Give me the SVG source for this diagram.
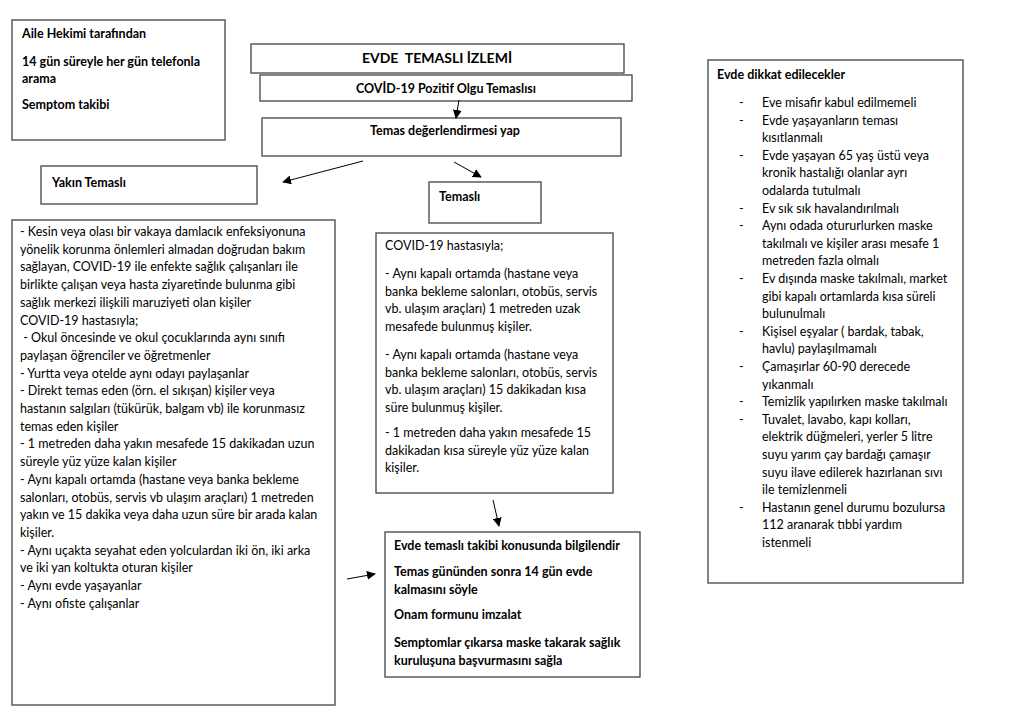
<svg xmlns="http://www.w3.org/2000/svg" width="1024" height="723" viewBox="0 0 1024 723">
<defs>
<style>
.box{fill:#fff;stroke:#505050;stroke-width:1.4}
text{font-family:Lato,"Liberation Sans",sans-serif;font-size:12.5px;fill:#000}
.b{font-weight:bold}
.c{text-anchor:middle}
.t{font-size:14px}
.con{stroke:#000;stroke-width:1;fill:none;marker-end:url(#ah)}
</style>
<marker id="ah" viewBox="0 0 10 10" refX="9" refY="5" markerWidth="9" markerHeight="9" markerUnits="userSpaceOnUse" orient="auto">
<path d="M0,0 L10,5 L0,10 z" fill="#000"/>
</marker>
</defs>
<rect width="1024" height="723" fill="#fff"/>

<g id="aile">
<rect class="box" x="12" y="20" width="213" height="120"/>
<text class="b" x="22" y="38">Aile Hekimi tarafından</text>
<text class="b" x="22" y="66">14 gün süreyle her gün telefonla</text>
<text class="b" x="22" y="83">arama</text>
<text class="b" x="22" y="109">Semptom takibi</text>
</g>

<g id="baslik">
<rect class="box" x="251" y="44" width="373" height="29"/>
<text class="b c t" x="437" y="63">EVDE&#160; TEMASLI İZLEMİ</text>
</g>

<g id="covid">
<rect class="box" x="260" y="75" width="372" height="26"/>
<text class="b c" x="446" y="93">COVİD-19 Pozitif Olgu Temaslısı</text>
</g>

<g id="degerlendirme">
<rect class="box" x="262" y="118" width="359" height="38"/>
<text class="b c" x="445" y="135">Temas değerlendirmesi yap</text>
</g>

<g id="yakin">
<rect class="box" x="41" y="166" width="216" height="38"/>
<text class="b" x="52" y="187">Yakın Temaslı</text>
</g>

<g id="temasli">
<rect class="box" x="429" y="182" width="112" height="41"/>
<text class="b" x="439" y="201">Temaslı</text>
</g>

<g id="yakin-liste">
<rect class="box" x="12" y="220" width="323" height="485"/>
<text x="20" y="236">- Kesin veya olası bir vakaya damlacık enfeksiyonuna</text>
<text x="20" y="253.7">yönelik korunma önlemleri almadan doğrudan bakım</text>
<text x="20" y="271.4">sağlayan, COVID-19 ile enfekte sağlık çalışanları ile</text>
<text x="20" y="289.1">birlikte çalışan veya hasta ziyaretinde bulunma gibi</text>
<text x="20" y="306.8">sağlık merkezi ilişkili maruziyeti olan kişiler</text>
<text x="20" y="324.5">COVID-19 hastasıyla;</text>
<text x="20" y="342.2">&#160;- Okul öncesinde ve okul çocuklarında aynı sınıfı</text>
<text x="20" y="359.9">paylaşan öğrenciler ve öğretmenler</text>
<text x="20" y="377.6">- Yurtta veya otelde aynı odayı paylaşanlar</text>
<text x="20" y="395.3">- Direkt temas eden (örn. el sıkışan) kişiler veya</text>
<text x="20" y="413">hastanın salgıları (tükürük, balgam vb) ile korunmasız</text>
<text x="20" y="430.7">temas eden kişiler</text>
<text x="20" y="448.4">- 1 metreden daha yakın mesafede 15 dakikadan uzun</text>
<text x="20" y="466.1">süreyle yüz yüze kalan kişiler</text>
<text x="20" y="483.8">- Aynı kapalı ortamda (hastane veya banka bekleme</text>
<text x="20" y="501.5">salonları, otobüs, servis vb ulaşım araçları) 1 metreden</text>
<text x="20" y="519.2">yakın ve 15 dakika veya daha uzun süre bir arada kalan</text>
<text x="20" y="536.9">kişiler.</text>
<text x="20" y="554.6">- Aynı uçakta seyahat eden yolculardan iki ön, iki arka</text>
<text x="20" y="572.3">ve iki yan koltukta oturan kişiler</text>
<text x="20" y="590">- Aynı evde yaşayanlar</text>
<text x="20" y="607.7">- Aynı ofiste çalışanlar</text>
</g>

<g id="temasli-liste">
<rect class="box" x="376" y="233" width="237" height="260"/>
<text x="385" y="250">COVID-19 hastasıyla;</text>
<text x="385" y="278">- Aynı kapalı ortamda (hastane veya</text>
<text x="385" y="295.7">banka bekleme salonları, otobüs, servis</text>
<text x="385" y="313.4">vb. ulaşım araçları) 1 metreden uzak</text>
<text x="385" y="331.1">mesafede bulunmuş kişiler.</text>
<text x="385" y="359">- Aynı kapalı ortamda (hastane veya</text>
<text x="385" y="376.7">banka bekleme salonları, otobüs, servis</text>
<text x="385" y="394.4">vb. ulaşım araçları) 15 dakikadan kısa</text>
<text x="385" y="412.1">süre bulunmuş kişiler.</text>
<text x="385" y="437">- 1 metreden daha yakın mesafede 15</text>
<text x="385" y="454.7">dakikadan kısa süreyle yüz yüze kalan</text>
<text x="385" y="472.4">kişiler.</text>
</g>

<g id="bilgilendir">
<rect class="box" x="385" y="532" width="255" height="145"/>
<text class="b" x="394" y="550">Evde temaslı takibi konusunda bilgilendir</text>
<text class="b" x="394" y="576">Temas gününden sonra 14 gün evde</text>
<text class="b" x="394" y="594">kalmasını söyle</text>
<text class="b" x="394" y="619">Onam formunu imzalat</text>
<text class="b" x="394" y="647">Semptomlar çıkarsa maske takarak sağlık</text>
<text class="b" x="394" y="665">kuruluşuna başvurmasını sağla</text>
</g>

<g id="dikkat">
<rect class="box" x="708" y="60" width="255" height="523"/>
<text class="b" x="717" y="79">Evde dikkat edilecekler</text>
<g>
<text x="739" y="107">-</text><text x="762" y="107">Eve misafir kabul edilmemeli</text>
<text x="739" y="124.6">-</text><text x="762" y="124.6">Evde yaşayanların teması</text>
<text x="762" y="142.2">kısıtlanmalı</text>
<text x="739" y="159.8">-</text><text x="762" y="159.8">Evde yaşayan 65 yaş üstü veya</text>
<text x="762" y="177.4">kronik hastalığı olanlar ayrı</text>
<text x="762" y="195">odalarda tutulmalı</text>
<text x="739" y="212.6">-</text><text x="762" y="212.6">Ev sık sık havalandırılmalı</text>
<text x="739" y="230.2">-</text><text x="762" y="230.2">Aynı odada otururlurken maske</text>
<text x="762" y="247.8">takılmalı ve kişiler arası mesafe 1</text>
<text x="762" y="265.4">metreden fazla olmalı</text>
<text x="739" y="283">-</text><text x="762" y="283">Ev dışında maske takılmalı, market</text>
<text x="762" y="300.6">gibi kapalı ortamlarda kısa süreli</text>
<text x="762" y="318.2">bulunulmalı</text>
<text x="739" y="335.8">-</text><text x="762" y="335.8">Kişisel eşyalar ( bardak, tabak,</text>
<text x="762" y="353.4">havlu) paylaşılmamalı</text>
<text x="739" y="371">-</text><text x="762" y="371">Çamaşırlar 60-90 derecede</text>
<text x="762" y="388.6">yıkanmalı</text>
<text x="739" y="406.2">-</text><text x="762" y="406.2">Temizlik yapılırken maske takılmalı</text>
<text x="739" y="423.8">-</text><text x="762" y="423.8">Tuvalet, lavabo, kapı kolları,</text>
<text x="762" y="441.4">elektrik düğmeleri, yerler 5 litre</text>
<text x="762" y="459">suyu yarım çay bardağı çamaşır</text>
<text x="762" y="476.6">suyu ilave edilerek hazırlanan sıvı</text>
<text x="762" y="494.2">ile temizlenmeli</text>
<text x="739" y="511.8">-</text><text x="762" y="511.8">Hastanın genel durumu bozulursa</text>
<text x="762" y="529.4">112 aranarak tıbbi yardım</text>
<text x="762" y="547">istenmeli</text>
</g>
</g>

<g id="connectors">
<line class="con" x1="459" y1="100" x2="456" y2="118"/>
<line class="con" x1="363" y1="161" x2="283" y2="182"/>
<line class="con" x1="454" y1="162" x2="481" y2="177"/>
<line class="con" x1="493" y1="500" x2="499" y2="526"/>
<line class="con" x1="347" y1="579" x2="375" y2="574"/>
</g>
</svg>
